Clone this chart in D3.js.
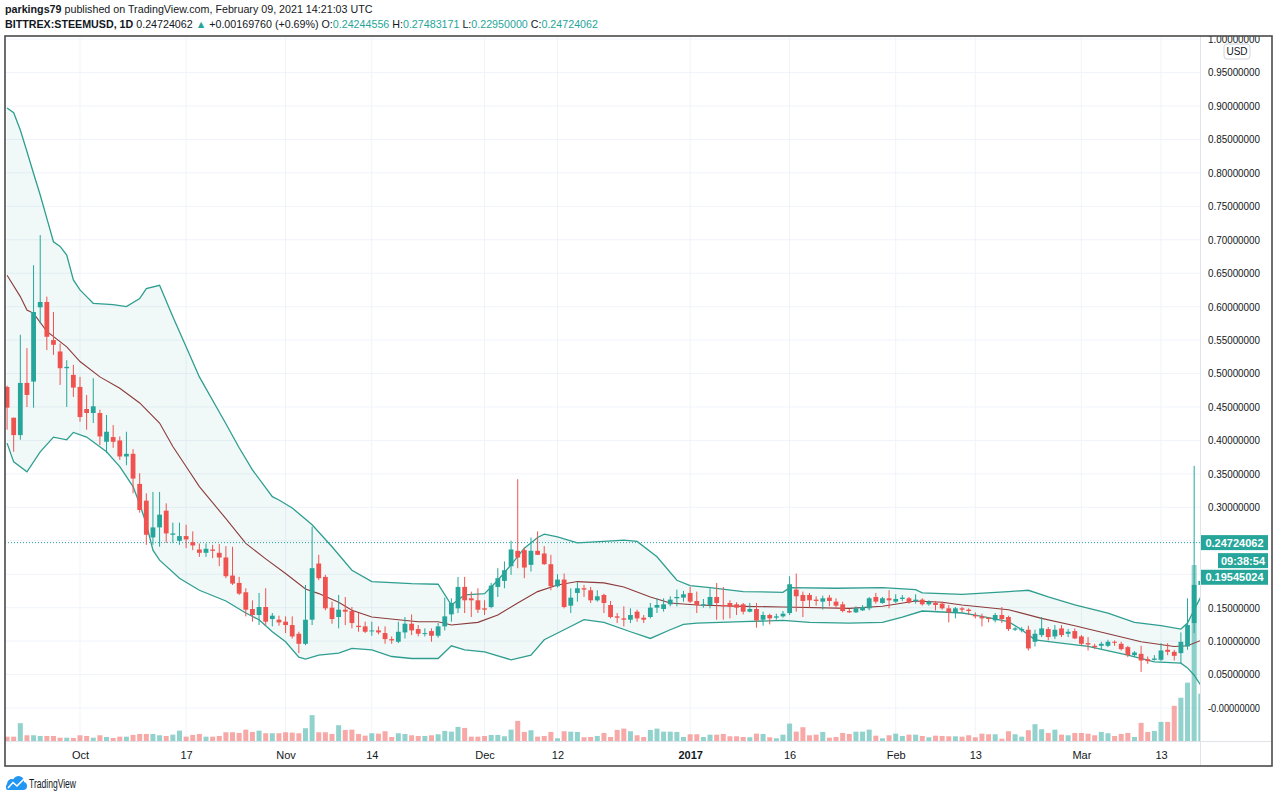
<!DOCTYPE html>
<html lang="en">
<head>
<meta charset="utf-8">
<title>BITTREX:STEEMUSD, 1D</title>
<script src="https://cdnjs.cloudflare.com/ajax/libs/d3/7.8.5/d3.min.js"></script>
<style>
  body { margin: 0; background: #fff; }
  svg text { font-family: "Liberation Sans", Arial, sans-serif; fill: #131722; }
</style>
</head>
<body>
<svg id="chart" width="1280" height="798"></svg>
<script>
// daily candles, first one is Sep 20 2016
const opens = [
  .480,.434,.408,.486,.488,.599,.607,.550,.533,.508,
  .498,.480,.447,.441,.441,.398,.405,.400,.376,.380,
  .335,.310,.255,.270,.295,.259,.250,.257,.248,.237,
  .232,.237,.232,.225,.198,.187,.173,.148,.139,.151,
  .133,.132,.129,.124,.111,.096,.132,.216,.196,.150,
  .136,.147,.145,.123,.122,.115,.116,.112,.103,.099,
  .113,.126,.118,.111,.115,.108,.122,.140,.149,.181,
  .164,.161,.149,.151,.181,.190,.212,.235,.236,.214,
  .235,.231,.215,.182,.192,.153,.172,.179,.176,.161,
  .169,.154,.137,.134,.132,.144,.135,.136,.150,.148,
  .155,.164,.165,.172,.160,.153,.154,.166,.154,.157,
  .155,.155,.144,.148,.132,.139,.135,.137,.142,.177,
  .169,.169,.162,.159,.165,.159,.155,.145,.143,.146,
  .149,.166,.157,.164,.159,.163,.164,.160,.162,.155,
  .157,.156,.149,.143,.149,.147,.139,.137,.135,.131,
  .139,.136,.117,.116,.117,.099,.109,.118,.107,.119,
  .111,.115,.107,.097,.093,.093,.093,.099,.096,.091,
  .079,.081,.073,.072,.072,.087,.084,.082,.092,.127,
  .184];
const highs = [
  .482,.434,.558,.538,.662,.707,.615,.592,.545,.520,
  .513,.495,.468,.493,.446,.438,.423,.406,.413,.387,
  .351,.321,.323,.323,.306,.277,.277,.274,.264,.246,
  .246,.244,.245,.242,.241,.196,.179,.161,.172,.179,
  .142,.138,.137,.137,.114,.184,.271,.229,.199,.159,
  .169,.166,.151,.142,.129,.129,.122,.122,.107,.129,
  .136,.140,.124,.119,.119,.127,.165,.164,.196,.196,
  .174,.179,.161,.187,.209,.219,.250,.342,.240,.255,
  .264,.242,.229,.200,.201,.179,.188,.184,.181,.176,
  .171,.160,.142,.152,.149,.147,.139,.157,.164,.164,
  .167,.177,.175,.181,.174,.163,.179,.187,.181,.161,
  .158,.157,.157,.157,.144,.141,.141,.145,.197,.201,
  .174,.172,.167,.168,.169,.164,.159,.148,.152,.154,
  .166,.172,.166,.176,.170,.169,.166,.170,.164,.161,
  .160,.159,.154,.151,.151,.149,.143,.141,.136,.142,
  .151,.138,.121,.121,.123,.117,.136,.121,.124,.124,
  .118,.119,.109,.106,.096,.099,.102,.101,.099,.093,
  .085,.093,.077,.079,.097,.097,.087,.113,.164,.362,
  .200];
const lows = [
  .416,.383,.401,.450,.449,.575,.535,.528,.483,.450,
  .465,.428,.416,.426,.393,.381,.389,.371,.363,.321,
  .292,.244,.244,.241,.247,.247,.244,.239,.236,.226,
  .226,.224,.212,.194,.184,.169,.137,.129,.124,.124,
  .122,.123,.112,.104,.082,.094,.124,.191,.146,.126,
  .119,.124,.119,.114,.112,.108,.110,.096,.096,.097,
  .104,.109,.107,.107,.099,.105,.116,.129,.142,.142,
  .136,.142,.139,.149,.166,.179,.199,.209,.194,.204,
  .229,.214,.176,.180,.149,.142,.159,.166,.157,.159,
  .142,.134,.127,.122,.127,.129,.127,.134,.142,.144,
  .152,.152,.159,.157,.142,.150,.149,.132,.132,.134,
  .139,.140,.143,.120,.123,.125,.132,.135,.139,.144,
  .136,.150,.153,.147,.152,.150,.143,.142,.142,.145,
  .146,.156,.156,.149,.157,.160,.156,.156,.153,.153,
  .146,.147,.128,.134,.143,.139,.134,.122,.128,.128,
  .127,.115,.115,.113,.086,.092,.106,.101,.103,.106,
  .106,.103,.094,.086,.088,.088,.091,.093,.086,.076,
  .076,.054,.066,.071,.070,.079,.071,.067,.087,.112,
  .170];
const closes = [
  .449,.408,.486,.468,.592,.607,.555,.543,.508,.510,
  .479,.435,.441,.451,.406,.413,.398,.376,.380,.343,
  .296,.259,.270,.289,.261,.261,.257,.252,.243,.232,
  .238,.235,.225,.197,.186,.171,.147,.139,.151,.129,
  .138,.128,.124,.107,.096,.132,.209,.194,.149,.133,
  .147,.144,.127,.121,.114,.116,.113,.103,.101,.114,
  .126,.116,.111,.112,.108,.122,.137,.157,.181,.161,
  .161,.147,.147,.183,.194,.206,.237,.225,.210,.235,
  .229,.215,.182,.192,.151,.165,.179,.177,.161,.167,
  .157,.136,.135,.132,.139,.134,.132,.150,.154,.155,
  .162,.166,.170,.159,.154,.155,.166,.157,.152,.151,
  .150,.144,.148,.131,.139,.134,.137,.141,.185,.167,
  .160,.161,.160,.164,.160,.153,.145,.143,.149,.151,
  .164,.159,.164,.161,.163,.165,.158,.162,.155,.159,
  .154,.149,.143,.149,.147,.145,.137,.134,.133,.139,
  .133,.118,.119,.118,.089,.111,.119,.106,.117,.109,
  .114,.104,.096,.095,.091,.096,.099,.098,.088,.079,
  .083,.071,.070,.074,.086,.084,.078,.099,.124,.184,
  .190];
const volumes = [
  43,43,177,57,57,50,50,50,33,33,
  30,57,50,33,57,40,30,43,43,60,
  70,70,70,57,50,63,103,43,60,70,
  43,43,50,87,87,80,113,90,103,77,
  77,77,87,83,77,127,257,87,87,70,
  157,110,113,70,53,77,73,97,40,77,
  70,57,50,50,57,67,100,93,140,130,
  43,43,50,60,60,47,113,200,90,107,
  43,50,90,27,97,93,90,37,40,50,
  80,40,110,123,97,57,40,110,123,93,
  93,90,40,67,67,40,63,63,70,47,
  47,40,37,73,70,37,27,63,173,93,
  137,57,63,90,33,40,80,70,93,93,
  113,53,27,57,73,50,63,63,50,37,
  53,50,47,47,43,57,37,73,67,67,
  23,97,67,43,107,167,117,80,113,63,
  57,80,80,73,57,90,77,50,70,80,
  40,180,90,100,190,190,350,430,580,1750,
  470];

// Bollinger Bands (20, 2): candle number, value
const upperDays = [1,2,3,4,5,6,7,8,9,10,11,12,13,14,17,19,21,22,24,26,28,30,34,36,38,41,42,44,47,50,53,56,62,66,68,70,73,75,77,79,81,82,84,87,91,94,96,99,102,104,107,112,118,119,126,133,138,139,145,152,155,158,162,167,171,175,178,179,180,181];
const upperVals = [.897,.890,.864,.832,.799,.767,.732,.697,.690,.677,.640,.625,.615,.605,.603,.600,.612,.627,.632,.585,.540,.495,.425,.389,.356,.316,.311,.299,.274,.241,.206,.189,.186,.185,.154,.169,.171,.191,.214,.239,.255,.260,.256,.247,.249,.251,.249,.226,.191,.183,.180,.174,.173,.180,.179,.180,.177,.172,.170,.174,.176,.166,.154,.142,.128,.123,.118,.127,.147,.166];
const basisDays = [1,3,4,5,7,10,12,15,18,21,24,26,28,30,34,37,40,43,46,48,51,53,56,60,63,66,68,72,75,78,81,84,87,91,94,98,101,105,112,118,128,133,138,142,145,152,157,162,167,172,177,179,181];
const basisVals = [.647,.615,.595,.590,.563,.540,.518,.495,.478,.456,.426,.391,.361,.331,.283,.246,.223,.201,.178,.171,.158,.146,.136,.132,.129,.129,.124,.128,.139,.157,.174,.184,.189,.187,.181,.166,.157,.154,.152,.151,.149,.152,.160,.158,.154,.147,.134,.123,.111,.099,.092,.093,.101];
const lowerDays = [1,2,4,6,8,10,11,13,16,18,20,21,22,23,24,27,30,34,37,39,41,43,45,46,48,51,53,56,59,62,66,68,70,73,77,80,82,85,88,91,95,98,101,103,105,112,118,122,128,133,136,139,145,147,152,154,156,159,164,170,174,178,179,180,181];
const lowerVals = [.396,.368,.353,.383,.405,.401,.412,.405,.383,.361,.331,.305,.275,.236,.221,.194,.176,.160,.142,.132,.114,.099,.076,.073,.079,.082,.089,.087,.077,.074,.074,.093,.087,.084,.072,.079,.102,.117,.132,.128,.114,.104,.117,.125,.127,.129,.131,.128,.127,.128,.136,.145,.142,.139,.129,.117,.102,.098,.092,.079,.069,.067,.060,.049,.034];

const priceTickLabels = ["-0.00000000","0.05000000","0.10000000","0.15000000","0.20000000","0.25000000",
  "0.30000000","0.35000000","0.40000000","0.45000000","0.50000000","0.55000000","0.60000000",
  "0.65000000","0.70000000","0.75000000","0.80000000","0.85000000","0.90000000","0.95000000","1.00000000"];
const timeTickDates = ["2016-10-01","2016-10-17","2016-11-01","2016-11-14","2016-12-01","2016-12-12",
  "2017-01-01","2017-01-16","2017-02-01","2017-02-13","2017-03-01","2017-03-13"];
const timeTickLabels = ["Oct","17","Nov","14","Dec","12","2017","16","Feb","13","Mar","13"];

const lastPrice = 0.24724062;
const secondPrice = 0.19545024;

const UP = "#26a69a", DOWN = "#ef5350";
const plotL = 5, plotR = 1200, plotT = 36, paneB = 741, frameB = 766, frameR = 1272;

const startDay = Date.UTC(2016, 8, 20);
const dayOf = k => new Date(startDay + (k - 1) * 864e5);

const candles = opens.map((o, i) => ({
  date: dayOf(i + 1), o: o, h: highs[i], l: lows[i], c: closes[i], v: volumes[i]
}));

const x = d3.scaleUtc()
  .domain([new Date(Date.UTC(2016, 9, 1)), new Date(Date.UTC(2017, 2, 13))])
  .range([80, 1161]);
const y = d3.scaleLinear().domain([0, 1]).range([708, 39.1]);
const yVol = d3.scaleLinear().domain([0, d3.max(volumes)]).range([paneB, 565]);

const svg = d3.select("#chart");

const defs = svg.append("defs");
defs.append("clipPath").attr("id", "plot")
  .append("rect").attr("x", plotL).attr("y", plotT).attr("width", plotR - plotL).attr("height", paneB - plotT);
defs.append("clipPath").attr("id", "frame")
  .append("rect").attr("x", plotL).attr("y", plotT).attr("width", frameR - plotL).attr("height", frameB - plotT);

// header: each coloured piece is its own text; font size picked so the row has the reference width
function textRow(x0, yb, width, parts) {
  const nodes = parts.map(p => svg.append("text").attr("y", yb)
    .style("font-size", "12px").style("white-space", "pre")
    .style("font-weight", p.b ? "bold" : "normal")
    .style("fill", p.c || "#131722").text(p.t));
  const total = d3.sum(nodes, n => n.node().getComputedTextLength());
  const size = 12 * width / total;
  nodes.forEach(n => n.style("font-size", size + "px"));
  let cx = x0;
  nodes.forEach(n => {
    n.attr("x", cx);
    cx += n.node().getComputedTextLength();
  });
}
textRow(5, 13, 368, [
  {t: "parkings79", b: true},
  {t: " published on TradingView.com, February 09, 2021 14:21:03 UTC"}
]);
textRow(5, 28, 594, [
  {t: "BITTREX:STEEMUSD, 1D", b: true},
  {t: " 0.24724062 "},
  {t: "\u25B2", c: UP},
  {t: " +0.00169760 (+0.69%) O:"},
  {t: "0.24244556", c: UP},
  {t: " H:"},
  {t: "0.27483171", c: UP},
  {t: " L:"},
  {t: "0.22950000", c: UP},
  {t: " C:"},
  {t: "0.24724062", c: UP}
]);

// grid
const priceTickVals = priceTickLabels.map((d, i) => i * 0.05);
const tickDates = timeTickDates.map(s => new Date(s + "T00:00:00Z"));
const grid = svg.append("g").attr("clip-path", "url(#plot)");
grid.selectAll("line.h").data(priceTickVals).enter().append("line")
  .attr("x1", plotL).attr("x2", plotR).attr("y1", d => y(d)).attr("y2", d => y(d))
  .attr("stroke", "#f0f3fa").attr("stroke-width", 1);
grid.selectAll("line.v").data(tickDates).enter().append("line")
  .attr("x1", d => x(d)).attr("x2", d => x(d)).attr("y1", plotT).attr("y2", paneB)
  .attr("stroke", "#f0f3fa").attr("stroke-width", 1);

const plot = svg.append("g").attr("clip-path", "url(#plot)");

// volume
plot.selectAll("rect.vol").data(candles).enter().append("rect")
  .attr("x", d => x(d.date) - 2.5).attr("width", 5)
  .attr("y", d => yVol(d.v)).attr("height", d => paneB - yVol(d.v))
  .attr("fill", d => d.c >= d.o ? "rgba(38,166,154,0.5)" : "rgba(239,83,80,0.5)");

// bollinger bands
const upPts = upperDays.map((d, i) => [x(dayOf(d)), y(upperVals[i])]);
const midPts = basisDays.map((d, i) => [x(dayOf(d)), y(basisVals[i])]);
const lowPts = lowerDays.map((d, i) => [x(dayOf(d)), y(lowerVals[i])]);
const line = d3.line();
plot.append("path")
  .attr("d", line(upPts.concat(lowPts.slice().reverse())) + "Z")
  .attr("fill", "rgba(38,166,154,0.07)");
plot.append("path").attr("d", line(upPts)).attr("fill", "none").attr("stroke", "#2f9e90").attr("stroke-width", 1.3);
plot.append("path").attr("d", line(lowPts)).attr("fill", "none").attr("stroke", "#2f9e90").attr("stroke-width", 1.3);
plot.append("path").attr("d", line(midPts)).attr("fill", "none").attr("stroke", "#8c3b3b").attr("stroke-width", 1.1);

// price line
plot.append("line").attr("x1", plotL).attr("x2", plotR)
  .attr("y1", y(lastPrice)).attr("y2", y(lastPrice))
  .attr("stroke", UP).attr("stroke-width", 1).attr("stroke-dasharray", "1,2");

// candles
const cg = plot.selectAll("g.candle").data(candles).enter().append("g");
cg.append("line")
  .attr("x1", d => x(d.date)).attr("x2", d => x(d.date))
  .attr("y1", d => y(d.h)).attr("y2", d => y(d.l))
  .attr("stroke", d => d.c >= d.o ? UP : DOWN).attr("stroke-width", 1);
cg.append("rect")
  .attr("x", d => x(d.date) - 2.4).attr("width", 4.8)
  .attr("y", d => y(Math.max(d.o, d.c)))
  .attr("height", d => Math.max(1, Math.abs(y(d.o) - y(d.c))))
  .attr("fill", d => d.c >= d.o ? UP : DOWN);

// price axis (labels under the last-price badges are hidden, as in the original)
const badgeYs = [y(lastPrice), y(lastPrice) + 18, y(secondPrice)];
const yAxis = d3.axisRight(y).tickValues(priceTickVals)
  .tickFormat((d, i) => priceTickLabels[i]).tickSize(4).tickPadding(4);
const ya = svg.append("g").attr("transform", `translate(${plotR},0)`).attr("clip-path", "url(#frame)").call(yAxis);
ya.select(".domain").remove();
ya.selectAll(".tick line").attr("stroke", "#b2b5be");
ya.selectAll(".tick text").style("font-size", "10.5px").style("fill", "#131722")
  .attr("textLength", 52).attr("lengthAdjust", "spacingAndGlyphs");
ya.selectAll(".tick").filter(d => badgeYs.some(b => Math.abs(y(d) - b) < 13)).select("text").remove();

// time axis
const xAxis = d3.axisBottom(x).tickValues(tickDates)
  .tickFormat((d, i) => timeTickLabels[i]).tickSize(0).tickPadding(10);
const xa = svg.append("g").attr("transform", `translate(0,${paneB})`).call(xAxis);
xa.select(".domain").remove();
xa.selectAll(".tick text").style("font-size", "11px").style("fill", "#131722")
  .style("font-weight", (d, i) => timeTickLabels[i] === "2017" ? "bold" : "normal");

// separators and frame
svg.append("line").attr("x1", plotR + 0.5).attr("x2", plotR + 0.5).attr("y1", plotT).attr("y2", frameB)
  .attr("stroke", "#e0e3eb");
svg.append("line").attr("x1", plotL).attr("x2", frameR).attr("y1", paneB + 0.5).attr("y2", paneB + 0.5)
  .attr("stroke", "#e0e3eb");
svg.append("rect").attr("x", plotL).attr("y", plotT).attr("width", frameR - plotL).attr("height", frameB - plotT)
  .attr("fill", "none").attr("stroke", "#4a4a4a").attr("stroke-width", 1.6);

// USD badge
svg.append("rect").attr("x", 1224).attr("y", 44).attr("width", 26).attr("height", 15).attr("rx", 3)
  .attr("fill", "#fff").attr("stroke", "#d1d4dc");
svg.append("text").attr("x", 1237).attr("y", 55).attr("text-anchor", "middle")
  .style("font-size", "10px").text("USD");

// last price badges
function badge(x0, yc, w, label) {
  svg.append("rect").attr("x", x0).attr("y", yc - 7.5).attr("width", w).attr("height", 15).attr("fill", UP);
  svg.append("text").attr("x", x0 + w / 2).attr("y", yc + 4).attr("text-anchor", "middle")
    .style("font-size", "11px").style("font-weight", "bold").style("fill", "#fff").text(label);
}
badge(1201, badgeYs[0], 67, "0.24724062");
badge(1218, badgeYs[1], 50, "09:38:54");
badge(1201, badgeYs[2], 67, "0.19545024");

// TradingView logo
const logo = svg.append("g").attr("fill", "#2196f3");
logo.append("circle").attr("cx", 12).attr("cy", 784).attr("r", 5);
logo.append("circle").attr("cx", 18.5).attr("cy", 781.5).attr("r", 5.5);
logo.append("circle").attr("cx", 23).attr("cy", 786).attr("r", 4);
logo.append("rect").attr("x", 6).attr("y", 784).attr("width", 18).attr("height", 6).attr("rx", 2);
svg.append("polyline").attr("points", "8,788 13,782.5 17,786 24,779")
  .attr("fill", "none").attr("stroke", "#fff").attr("stroke-width", 1.6);
svg.append("text").attr("x", 29).attr("y", 788).style("font-size", "12.5px")
  .attr("textLength", 47).attr("lengthAdjust", "spacingAndGlyphs").text("TradingView");
</script>
</body>
</html>
